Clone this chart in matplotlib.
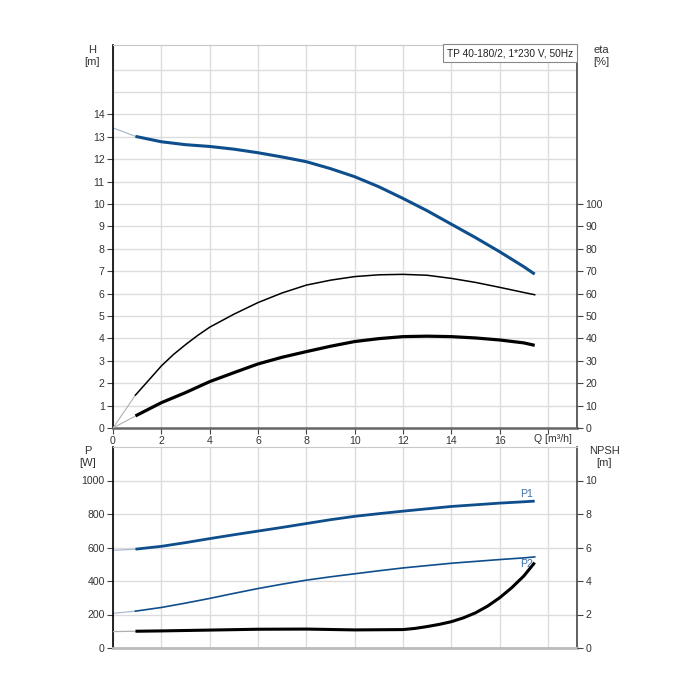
import numpy as np
import matplotlib
matplotlib.use("Agg")
import matplotlib.pyplot as plt
import matplotlib.transforms as mtransforms

plt.rcParams['font.family'] = ['Liberation Sans', 'DejaVu Sans']

# ----------------------------
# DATA (read from the curve sheet)
# ----------------------------
title = "TP 40-180/2, 1*230 V, 50Hz"

q = [0.93, 2, 3, 4, 5, 6, 7, 8, 9, 10, 11, 12, 13, 14, 15, 16, 17, 17.45]

head = [13.02, 12.78, 12.65, 12.57, 12.45, 12.29, 12.1, 11.89, 11.58, 11.22,
        10.77, 10.25, 9.7, 9.1, 8.5, 7.87, 7.2, 6.87]
eta_total = [5.4, 11.3, 15.8, 20.7, 24.7, 28.6, 31.6, 34.1, 36.5, 38.6,
             39.9, 40.8, 41.0, 40.8, 40.2, 39.3, 38.0, 36.9]
p1 = [590, 607, 629, 653, 676, 698, 720, 743, 766, 786,
      802, 817, 831, 845, 855, 865, 873, 877]
p2 = [220, 242, 268, 296, 326, 355, 381, 405, 425, 443,
      461, 478, 492, 506, 517, 528, 538, 544]

# pump efficiency bends hard at low flow -> read more points there
q_eta = [0.93, 1.5, 2, 2.5, 3, 3.5, 4, 5, 6, 7, 8, 9, 10, 11, 12, 13, 14,
         15, 16, 17, 17.45]
eta_pump = [14.7, 21.6, 27.7, 32.8, 37.2, 41.3, 45.0, 50.8, 56.0, 60.3, 63.8,
            66.0, 67.6, 68.4, 68.6, 68.2, 66.8, 65.0, 62.8, 60.5, 59.5]

# NPSH rises steeply at the end -> more points there
q_npsh = [0.93, 2, 4, 6, 8, 10, 12, 12.5, 13, 13.5, 14, 14.5, 15, 15.5, 16,
          16.5, 17, 17.45]
npsh = [1.0, 1.02, 1.07, 1.12, 1.13, 1.08, 1.1, 1.17, 1.28, 1.41, 1.57, 1.8,
        2.1, 2.5, 3.0, 3.6, 4.3, 5.1]

# values at Q = 0 (thin grey extension lines)
q0 = 0
head0 = 13.4
eta_pump0 = 0
eta_total0 = 0
p1_0 = 583
p2_0 = 207
npsh0 = 0.98

h_ticks = list(range(0, 15))
eta_ticks = list(range(0, 101, 10))
q_ticks = list(range(0, 19, 2))
q_labels = [str(v) for v in q_ticks[:-1]] + [""]
p_ticks = list(range(0, 1001, 200))
npsh_ticks = list(range(0, 11, 2))

# ----------------------------
# STYLE
# ----------------------------
blue = "#0f4e8c"
ext_blue = "#a9bccf"
ext_grey = "#b0b0b0"
grid_c = "#dcdcdc"
txt_c = "#333333"
fs = 7.6

fig = plt.figure(figsize=(7, 7), dpi=100)
ax_h = fig.add_axes([113 / 700, 272 / 700, 464 / 700, 383 / 700])
ax_p = fig.add_axes([113 / 700, 52 / 700, 464 / 700, 201 / 700])
ax_eta = ax_h.twinx()
ax_n = ax_p.twinx()

xmax = 19.2
for ax in (ax_h, ax_p):
    ax.set_xlim(0, xmax)
    ax.set_xticks(q_ticks)
    ax.grid(True, which='both', color=grid_c, linewidth=1)
    ax.set_axisbelow(True)
    ax.spines['left'].set_color('black')
    ax.spines['left'].set_linewidth(1.2)
    ax.spines['top'].set_color('#c8c8c8')
    ax.spines['right'].set_color('#444444')
    ax.spines['right'].set_linewidth(1.2)
    ax.tick_params(axis='y', labelsize=fs, labelcolor=txt_c, length=4,
                   color='#444444', pad=2)

# ----------------------------
# TOP: H + eta
# ----------------------------
ax_h.set_ylim(0, 17.1)
ax_h.set_yticks(h_ticks)
ax_h.set_yticks([15, 16], minor=True)
ax_h.tick_params(axis='y', which='minor', length=0)
ax_h.set_xticklabels(q_labels)
ax_h.tick_params(axis='x', labelsize=fs, labelcolor=txt_c, length=4,
                 color='#444444', pad=2)
ax_h.spines['bottom'].set_color('#666666')
ax_h.spines['bottom'].set_linewidth(1.8)
trans = mtransforms.blended_transform_factory(ax_h.transData, ax_h.transAxes)
ax_h.text(18.2, -0.0165, "Q [m³/h]", transform=trans, ha='center', va='top',
          fontsize=fs, color=txt_c)

ax_h.plot([q0, q[0]], [head0, head[0]], color=ext_blue, lw=0.9)
ax_h.plot(q, head, color=blue, lw=2.2, solid_capstyle='butt')

ax_eta.set_xlim(0, xmax)
ax_eta.set_ylim(0, 171)
ax_eta.set_yticks(eta_ticks)
ax_eta.tick_params(axis='y', labelsize=fs, labelcolor=txt_c, length=4,
                   color='#444444', pad=2)
for s in ax_eta.spines.values():
    s.set_visible(False)
ax_eta.plot([q0, q_eta[0]], [eta_pump0, eta_pump[0]], color=ext_grey, lw=0.8)
ax_eta.plot([q0, q[0]], [eta_total0, eta_total[0]], color=ext_grey, lw=0.8)
ax_eta.plot(q_eta, eta_pump, color='black', lw=1.1)
ax_eta.plot(q, eta_total, color='black', lw=2.3, solid_capstyle='butt')

ax_h.text(0.991, 0.992, title, transform=ax_h.transAxes, ha='right', va='top',
          fontsize=7.3, color='#222222', zorder=10,
          bbox=dict(boxstyle='square,pad=0.4', facecolor='white',
                    edgecolor='#888888', linewidth=0.8))

# ----------------------------
# BOTTOM: P1, P2 + NPSH
# ----------------------------
ax_p.set_ylim(0, 1200)
ax_p.set_yticks(p_ticks)
ax_p.tick_params(axis='x', length=0, labelbottom=False)
ax_p.spines['bottom'].set_color('#bbbbbb')
ax_p.spines['bottom'].set_linewidth(2)

ax_p.plot([q0, q[0]], [p1_0, p1[0]], color=ext_blue, lw=0.9)
ax_p.plot([q0, q[0]], [p2_0, p2[0]], color=ext_blue, lw=0.9)
ax_p.plot(q, p1, color=blue, lw=2.0, solid_capstyle='butt')
ax_p.plot(q, p2, color=blue, lw=1.2)
ax_p.text(17.1, 920, "P1", fontsize=fs, color='#3d6ea6', ha='center', va='center')
ax_p.text(17.1, 500, "P2", fontsize=fs, color='#3d6ea6', ha='center', va='center')

ax_n.set_xlim(0, xmax)
ax_n.set_ylim(0, 12)
ax_n.set_yticks(npsh_ticks)
ax_n.tick_params(axis='y', labelsize=fs, labelcolor=txt_c, length=4,
                 color='#444444', pad=2)
for s in ax_n.spines.values():
    s.set_visible(False)
ax_n.plot([q0, q_npsh[0]], [npsh0, npsh[0]], color=ext_grey, lw=0.9)
ax_n.plot(q_npsh, npsh, color='black', lw=2.2, solid_capstyle='butt')

# axis captions
fig.text(92 / 700, 1 - 56 / 700, "H\n[m]", fontsize=fs + 0.4, color=txt_c,
         ha='center', va='center', linespacing=1.25)
fig.text(601 / 700, 1 - 56 / 700, "eta\n[%]", fontsize=fs + 0.4, color=txt_c,
         ha='center', va='center', linespacing=1.25)
fig.text(88 / 700, 1 - 457 / 700, "P\n[W]", fontsize=fs + 0.4, color=txt_c,
         ha='center', va='center', linespacing=1.25)
fig.text(604 / 700, 1 - 457 / 700, "NPSH\n[m]", fontsize=fs + 0.4, color=txt_c,
         ha='center', va='center', linespacing=1.25)

fig.savefig("out.png", dpi=100, facecolor='white')
